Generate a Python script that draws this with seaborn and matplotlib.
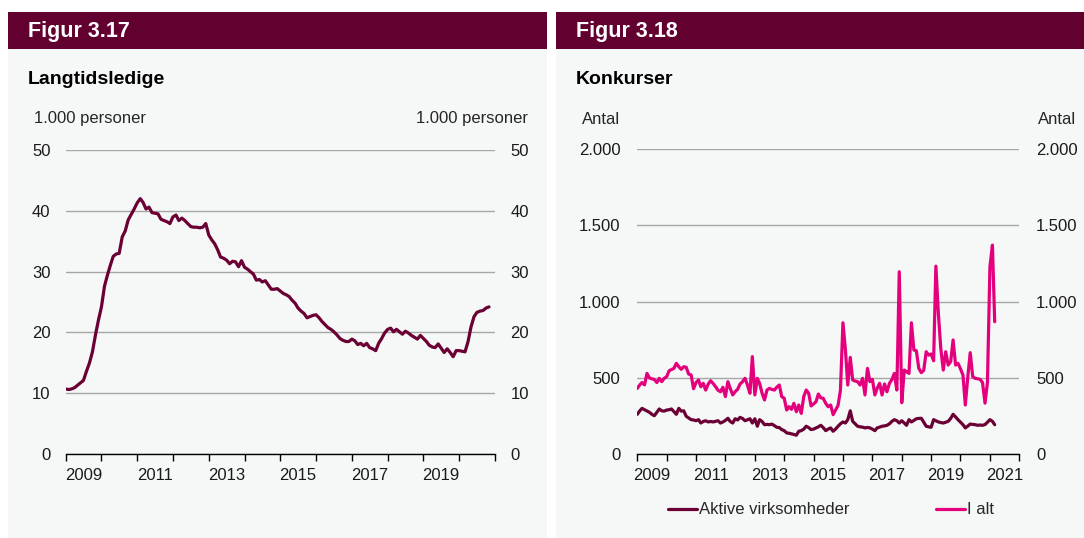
import numpy as np
import pandas as pd
import matplotlib
matplotlib.use("Agg")
import matplotlib.pyplot as plt
import matplotlib.dates as mdates
import matplotlib.ticker as mticker
import seaborn as sns
from matplotlib.patches import Rectangle
from matplotlib.lines import Line2D

# ---------------- data ----------------
# Figur 3.17 Langtidsledige, 1.000 personer, monthly Jan 2009 - Nov 2020
langtid = [
    10.7, 10.6, 10.7, 10.9, 11.3, 11.7, 12.1, 13.6, 15.0, 16.8, 19.6, 22.0,   # 2009
    24.2, 27.6, 29.3, 31.0, 32.5, 32.9, 33.0, 35.7, 36.7, 38.5, 39.4, 40.3,   # 2010
    41.3, 42.0, 41.4, 40.3, 40.6, 39.7, 39.6, 39.5, 38.6, 38.4, 38.2, 37.9,   # 2011
    39.0, 39.3, 38.4, 38.8, 38.4, 37.9, 37.4, 37.3, 37.3, 37.2, 37.3, 37.9,   # 2012
    36.0, 35.2, 34.6, 33.6, 32.4, 32.2, 31.9, 31.3, 31.7, 31.6, 30.8, 31.8,   # 2013
    30.7, 30.4, 30.0, 29.6, 28.6, 28.7, 28.3, 28.5, 27.8, 27.1, 27.1, 27.2,   # 2014
    26.8, 26.4, 26.2, 25.9, 25.3, 24.8, 24.0, 23.5, 23.1, 22.4, 22.6, 22.8,   # 2015
    22.9, 22.4, 21.8, 21.3, 20.8, 20.5, 20.1, 19.6, 19.0, 18.7, 18.5, 18.5,   # 2016
    18.9, 18.6, 18.0, 18.2, 17.8, 18.2, 17.5, 17.3, 17.0, 18.2, 19.0, 19.9,   # 2017
    20.5, 20.7, 20.1, 20.5, 20.1, 19.7, 20.2, 19.9, 19.5, 19.2, 18.9, 19.5,   # 2018
    19.0, 18.5, 17.9, 17.6, 17.5, 18.1, 17.4, 16.7, 17.3, 16.7, 16.0, 17.0,   # 2019
    17.0, 16.9, 16.8, 18.5, 20.9, 22.6, 23.3, 23.5, 23.6, 24.0, 24.2,         # 2020
]

# Figur 3.18 Konkurser, antal, monthly Jan 2009 - Mar 2021
aktive = [
    262, 285, 301, 292, 283, 275, 262, 253, 275, 297, 285, 283,   # 2009
    290, 292, 297, 280, 262, 301, 283, 285, 249, 238, 227, 225,   # 2010
    220, 227, 205, 215, 220, 212, 215, 212, 216, 220, 205, 212,   # 2011
    222, 236, 215, 205, 233, 225, 242, 235, 220, 226, 233, 205,   # 2012
    233, 184, 227, 215, 194, 196, 194, 198, 188, 177, 175, 162,   # 2013
    155, 140, 138, 134, 130, 125, 151, 155, 165, 184, 175, 162,   # 2014
    165, 173, 180, 190, 175, 155, 165, 173, 151, 165, 184, 200,   # 2015
    212, 205, 227, 285, 216, 200, 184, 180, 178, 173, 176, 173,   # 2016
    165, 155, 173, 178, 184, 186, 190, 200, 216, 227, 220, 205,   # 2017
    220, 205, 190, 227, 212, 222, 233, 235, 236, 210, 184, 180,   # 2018
    177, 227, 220, 212, 208, 205, 210, 216, 235, 262, 245, 227,   # 2019
    210, 194, 173, 185, 198, 196, 194, 190, 192, 190, 195, 210,   # 2020
    227, 216, 194,                                                # 2021
]
i_alt = [
    432, 455, 470, 455, 530, 500, 495, 490, 470, 498, 476, 498,   # 2009
    509, 548, 555, 563, 596, 574, 557, 574, 570, 526, 520, 430,   # 2010
    470, 487, 443, 465, 421, 460, 482, 465, 443, 420, 410, 439,   # 2011
    378, 476, 432, 389, 410, 426, 460, 476, 498, 454, 400, 640,   # 2012
    389, 498, 465, 400, 356, 421, 432, 425, 421, 440, 454, 378,   # 2013
    367, 290, 312, 295, 334, 279, 323, 268, 378, 421, 400, 317,   # 2014
    330, 345, 395, 370, 367, 334, 312, 323, 260, 290, 320, 420,   # 2015
    862, 683, 454, 635, 487, 480, 476, 454, 498, 389, 563, 476,   # 2016
    491, 389, 432, 465, 389, 461, 410, 465, 490, 530, 421, 1196,  # 2017
    338, 552, 541, 530, 862, 683, 679, 563, 535, 550, 672, 650,   # 2018
    657, 613, 1233, 923, 694, 552, 672, 585, 607, 749, 585, 596,  # 2019
    560, 519, 323, 509, 666, 509, 498, 495, 491, 470, 335, 470,   # 2020
    1229, 1371, 869,                                              # 2021
]

left_ticks = [0, 10, 20, 30, 40, 50]
right_ticks = [0, 500, 1000, 1500, 2000]
left_years = [2009, 2011, 2013, 2015, 2017, 2019]
right_years = [2009, 2011, 2013, 2015, 2017, 2019, 2021]
series_names = ["Aktive virksomheder", "I alt"]

# ---------------- style ----------------
sns.set_theme(style="white")
plt.rcParams["font.family"] = ["Liberation Sans", "DejaVu Sans"]

DARK = "#6a0034"
PINK = "#e4007c"
HEAD = "#62002f"
PANEL = "#f6f7f7"
GRID = "#a6a6a6"
FS = 12

W, H = 1084, 538
fig = plt.figure(figsize=(W / 100, H / 100), dpi=100)
fig.patch.set_facecolor("white")


def fx(px):
    return px / W


def fy(py):
    return 1 - py / H


# panels and headers
for x0, x1 in [(8, 547), (556, 1084)]:
    fig.patches.append(Rectangle((fx(x0), 0), fx(x1) - fx(x0), fy(12), transform=fig.transFigure,
                                 facecolor=PANEL, edgecolor="none", zorder=-10))
    fig.patches.append(Rectangle((fx(x0), fy(49)), fx(x1) - fx(x0), fy(12) - fy(49), transform=fig.transFigure,
                                 facecolor=HEAD, edgecolor="none", zorder=-9))

fig.text(fx(28), fy(31), "Figur 3.17", color="white", fontsize=15.5, fontweight="bold", va="center")
fig.text(fx(576), fy(31), "Figur 3.18", color="white", fontsize=15.5, fontweight="bold", va="center")
fig.text(fx(28), fy(80), "Langtidsledige", color="black", fontsize=14, fontweight="bold", va="center")
fig.text(fx(576), fy(80), "Konkurser", color="black", fontsize=14, fontweight="bold", va="center")
fig.text(fx(34), fy(119), "1.000 personer", fontsize=FS, va="center")
fig.text(fx(528), fy(119), "1.000 personer", fontsize=FS, va="center", ha="right")
fig.text(fx(582), fy(119), "Antal", fontsize=FS, va="center")
fig.text(fx(1076), fy(119), "Antal", fontsize=FS, va="center", ha="right")

ax1 = fig.add_axes([fx(65.7), fy(454), fx(495) - fx(65.7), fy(150) - fy(454)])
ax2 = fig.add_axes([fx(637.3), fy(454.3), fx(1019.3) - fx(637.3), fy(149.1) - fy(454.3)])

df1 = pd.DataFrame({"date": pd.date_range("2009-01-01", periods=len(langtid), freq="MS"),
                    "value": langtid})
n2 = len(i_alt)
df2 = pd.DataFrame({"date": list(pd.date_range("2009-01-01", periods=n2, freq="MS")) * 2,
                    "value": aktive + i_alt,
                    "serie": [series_names[0]] * n2 + [series_names[1]] * n2})

sns.lineplot(data=df1, x="date", y="value", ax=ax1, color=DARK, lw=2.3)
sns.lineplot(data=df2, x="date", y="value", hue="serie", palette=[DARK, PINK], ax=ax2, lw=2.3,
             legend=False)


def style_axis(ax, yticks, years, x_end_year, fmt, ypad):
    ax.set_facecolor("none")
    ax.set_xlim(mdates.date2num(pd.Timestamp("2009-01-01")), mdates.date2num(pd.Timestamp(f"{x_end_year}-01-01")))
    ax.set_ylim(yticks[0], yticks[-1])
    ax.set_yticks(yticks)
    ax.yaxis.set_major_formatter(mticker.FuncFormatter(fmt))
    ax.grid(axis="y", color=GRID, lw=1)
    ax.set_axisbelow(True)
    for s in ["top", "left", "right"]:
        ax.spines[s].set_visible(False)
    ax.spines["bottom"].set_color("black")
    ax.spines["bottom"].set_linewidth(1)
    ax.tick_params(axis="y", length=0, labelsize=FS, labelleft=True, labelright=True, pad=ypad,
                   colors="#1a1a1a")
    major = [mdates.date2num(pd.Timestamp(f"{y}-01-01")) for y in range(2009, x_end_year + 1)]
    ax.set_xticks(major)
    ax.set_xticklabels([""] * len(major))
    minor = [mdates.date2num(pd.Timestamp(f"{y}-07-01")) for y in years]
    ax.set_xticks(minor, minor=True)
    ax.set_xticklabels([str(y) for y in years], minor=True)
    ax.tick_params(axis="x", which="major", length=5, width=1, color="black", direction="out", bottom=True)
    ax.tick_params(axis="x", which="minor", length=0, labelsize=FS, pad=10, colors="#1a1a1a")
    ax.set_xlabel("")
    ax.set_ylabel("")


style_axis(ax1, left_ticks, left_years, 2021, lambda v, p: f"{v:.0f}", 11)
style_axis(ax2, right_ticks, right_years, 2022,
           lambda v, p: f"{v:,.0f}".replace(",", "."), 12)

handles = [Line2D([], [], color=DARK, lw=2.3), Line2D([], [], color=PINK, lw=2.3)]
fig.legend(handles, series_names, loc="center", bbox_to_anchor=(fx(831), fy(510)), ncol=2,
           frameon=False, fontsize=FS, handlelength=1.75, handletextpad=0.12, columnspacing=5.2)

fig.savefig("out.png", dpi=100, facecolor=fig.get_facecolor())
